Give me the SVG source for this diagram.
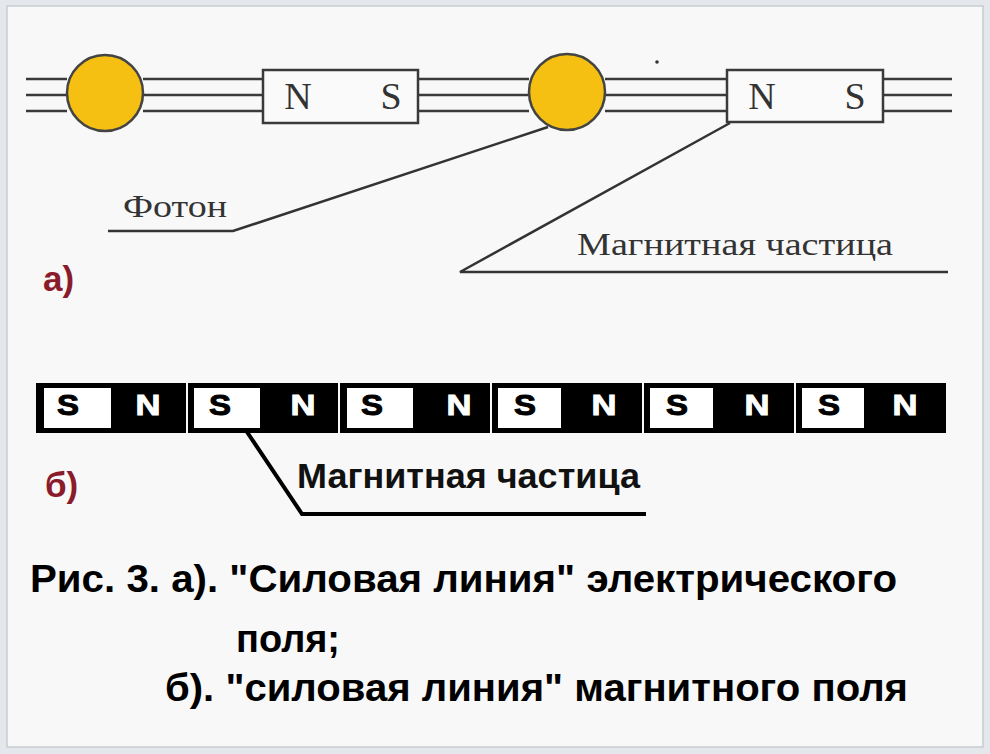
<svg xmlns="http://www.w3.org/2000/svg" width="990" height="754" viewBox="0 0 990 754">
<style>
.fl{stroke:#3a3a3a;stroke-width:2.5;fill:none}
.ph{fill:#f5c012;stroke:#444;stroke-width:2.5}
.box{fill:#fafafa;stroke:#3a3a3a;stroke-width:2.5}
.ser{font-family:"Liberation Serif","Times New Roman",serif;fill:#333}
.lead{stroke:#333;stroke-width:2.5;fill:none}
.lab{font-family:"Liberation Sans",Arial,sans-serif;font-weight:bold;fill:#8a1b2b;font-size:35px}
.mag{fill:#000}
.cell{fill:#fff}
.ms{font-family:"Liberation Sans",Arial,sans-serif;font-weight:bold;font-size:30px;text-anchor:middle;stroke-width:1}
.s{fill:#000;stroke:#000}
.n{fill:#fff;stroke:#fff}
.cap{font-family:"Liberation Sans Narrow","Liberation Sans",Arial,sans-serif;font-weight:bold;font-size:38px;fill:#000}
</style>
<rect x="0" y="0" width="990" height="754" fill="#e4e8ec"/>
<rect x="7" y="6" width="976" height="741" fill="#f8f8f8" stroke="#c8ccd1" stroke-width="1.5"/>

<g id="connectors">
<path class="fl" d="M26 79H67M26 95H67M26 111H67"/>
<path class="fl" d="M143 79H263M143 95H263M143 111H263"/>
<path class="fl" d="M418 79H529M418 95H529M418 111H529"/>
<path class="fl" d="M605 79H727M605 95H727M605 111H727"/>
<path class="fl" d="M883 79H952M883 95H952M883 111H952"/>
<path class="lead" d="M548 127L233 231H108"/>
<path class="lead" d="M730 123L460 272H948"/>
<path d="M247 432L302 514H646" stroke="#000" stroke-width="4" fill="none"/>
</g>

<g id="photon1"><circle class="ph" cx="105" cy="93" r="38"/></g>
<g id="magnet1">
<rect class="box" x="263" y="70" width="155" height="53"/>
<text class="ser" x="298" y="109" font-size="38" text-anchor="middle">N</text>
<text class="ser" x="391" y="109" font-size="38" text-anchor="middle">S</text>
</g>
<g id="photon2"><circle class="ph" cx="567" cy="92" r="38"/></g>
<g id="magnet2">
<rect class="box" x="727" y="70" width="156" height="52"/>
<text class="ser" x="762" y="109" font-size="38" text-anchor="middle">N</text>
<text class="ser" x="855" y="109" font-size="38" text-anchor="middle">S</text>
</g>
<circle cx="657" cy="62" r="1.8" fill="#333"/>

<g id="label-photon"><text class="ser" x="123" y="217" font-size="32" textLength="104" lengthAdjust="spacingAndGlyphs">Фотон</text></g>
<g id="label-mag-a"><text class="ser" x="577" y="255" font-size="32" textLength="316" lengthAdjust="spacingAndGlyphs">Магнитная частица</text></g>
<g id="label-a"><text class="lab" x="43" y="291">а)</text></g>

<g id="bar">
<g id="m1"><rect class="mag" x="36" y="383" width="150" height="50"/><rect class="cell" x="44" y="388" width="67" height="40"/><text class="ms s" x="68" y="415" textLength="22" lengthAdjust="spacingAndGlyphs">S</text><text class="ms n" x="148" y="415" textLength="25" lengthAdjust="spacingAndGlyphs">N</text></g>
<g id="m2"><rect class="mag" x="188" y="383" width="150" height="50"/><rect class="cell" x="194" y="388" width="66" height="40"/><text class="ms s" x="220" y="415" textLength="22" lengthAdjust="spacingAndGlyphs">S</text><text class="ms n" x="303" y="415" textLength="25" lengthAdjust="spacingAndGlyphs">N</text></g>
<g id="m3"><rect class="mag" x="340" y="383" width="150" height="50"/><rect class="cell" x="347" y="388" width="66" height="40"/><text class="ms s" x="372" y="415" textLength="22" lengthAdjust="spacingAndGlyphs">S</text><text class="ms n" x="459" y="415" textLength="25" lengthAdjust="spacingAndGlyphs">N</text></g>
<g id="m4"><rect class="mag" x="492" y="383" width="150" height="50"/><rect class="cell" x="498" y="388" width="63" height="40"/><text class="ms s" x="525" y="415" textLength="22" lengthAdjust="spacingAndGlyphs">S</text><text class="ms n" x="604" y="415" textLength="25" lengthAdjust="spacingAndGlyphs">N</text></g>
<g id="m5"><rect class="mag" x="644" y="383" width="150" height="50"/><rect class="cell" x="650" y="388" width="63" height="40"/><text class="ms s" x="677" y="415" textLength="22" lengthAdjust="spacingAndGlyphs">S</text><text class="ms n" x="757" y="415" textLength="25" lengthAdjust="spacingAndGlyphs">N</text></g>
<g id="m6"><rect class="mag" x="796" y="383" width="150" height="50"/><rect class="cell" x="802" y="388" width="62" height="40"/><text class="ms s" x="829" y="415" textLength="22" lengthAdjust="spacingAndGlyphs">S</text><text class="ms n" x="905" y="415" textLength="25" lengthAdjust="spacingAndGlyphs">N</text></g>
</g>

<g id="label-mag-b"><text x="297" y="488" font-family="Liberation Sans,Arial,sans-serif" font-weight="bold" font-size="35" fill="#111" textLength="343" lengthAdjust="spacingAndGlyphs">Магнитная частица</text></g>
<g id="label-b"><text class="lab" x="45" y="497">б)</text></g>

<g id="caption">
<text class="cap" x="30" y="592" textLength="867" lengthAdjust="spacingAndGlyphs">Рис. 3. а). "Силовая линия" электрического</text>
<text class="cap" x="236" y="652" textLength="104" lengthAdjust="spacingAndGlyphs">поля;</text>
<text class="cap" x="165" y="701" textLength="743" lengthAdjust="spacingAndGlyphs">б). "силовая линия" магнитного поля</text>
</g>
</svg>
